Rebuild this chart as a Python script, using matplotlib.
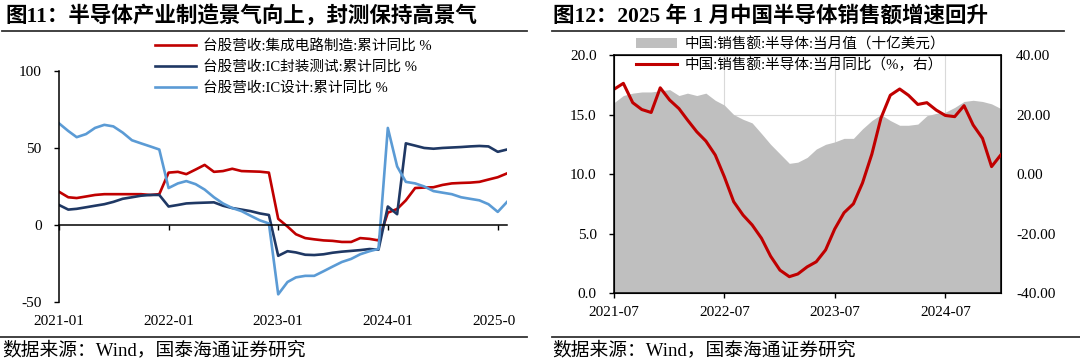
import pandas as pd
import matplotlib
matplotlib.use('Agg')
import matplotlib.pyplot as plt
from matplotlib.lines import Line2D
from matplotlib.patches import Patch
from matplotlib.transforms import Bbox, TransformedBbox

plt.rcParams['font.family'] = ['Liberation Serif', 'Noto Sans CJK SC']
plt.rcParams['axes.unicode_minus'] = False

# 图11: 台股营收 累计同比 (%)
months_l = pd.date_range('2021-01-01', '2025-02-01', freq='MS')
ic_mfg = [21.6, 18, 17.5, 18.5, 19.5, 20, 20, 20, 20, 20, 19.5, 20,
          34, 34.5, 33, 36, 39, 34.5, 35, 36.5, 35, 34.8, 34.6, 34,
          4, -1, -6, -8.5, -9.3, -10, -10.3, -11, -11, -8.5, -9, -10,
          8, 10.4, 16, 24, 24.3, 24.5, 26, 27, 27.3, 27.5, 28, 29.5,
          31, 33.5]
ic_pkg = [13, 10, 10.5, 11.5, 12.5, 13.5, 15, 17, 18, 19, 19.5, 19.5,
          12, 13, 14, 14.3, 14.5, 14.7, 12.5, 11, 10, 9, 7.5, 6.5,
          -20, -17, -17.8, -19.3, -19.5, -19, -18, -17.3, -16.8, -16.3, -15.6, -16,
          12, 7, 53, 51.5, 50, 49.5, 50, 50.3, 50.6, 51, 51.3, 51,
          47.5, 49]
ic_design = [66, 61, 57, 59, 63, 65, 64, 60, 55, 53, 51, 49,
             24, 27, 28.5, 26.5, 23, 18, 14, 11, 9, 6, 3, 1,
             -45, -37, -34, -33, -33, -30, -27, -24, -22, -19, -17, -15.5,
             63, 38, 28, 27, 25, 22, 21, 20, 18, 17, 16, 13.5,
             8.5, 15]
ticks_l = ['2021-01', '2022-01', '2023-01', '2024-01', '2025-01']
names_l = ['台股营收:集成电路制造:累计同比 %',
           '台股营收:IC封装测试:累计同比 %',
           '台股营收:IC设计:累计同比 %']

# 图12: 中国半导体销售额
months_r = pd.date_range('2021-07-01', '2025-01-01', freq='MS')
sales = [16.0, 16.6, 16.8, 16.9, 16.9, 17.0, 17.1, 16.6, 16.8, 16.6, 16.8, 16.2,
         15.8, 15.0, 14.6, 14.3, 13.4, 12.5, 11.7, 10.9, 11.0, 11.4, 12.1, 12.5,
         12.7, 13.0, 13.0, 13.8, 14.5, 15.0, 14.5, 14.1, 14.1, 14.2, 14.9, 15.1,
         15.2, 15.6, 16.1, 16.2, 16.1, 15.9, 15.5]
sales_yoy = [28.5, 30.5, 24, 21.7, 20.7, 29, 24.9, 22, 18.2, 14.2, 11.1, 6.4,
             -0.9, -9.3, -13.8, -17.1, -21.6, -27.6, -32.3, -34.5, -33.6, -31.2, -29.5, -25.5,
             -18.5, -13, -10, -3, 6.7, 18.8, 26.5, 28.6, 26.5, 23.4, 24, 21.5,
             19.7, 19.3, 23, 16.5, 12, 2.5, 6.5]
ticks_r = ['2021-07', '2022-07', '2023-07', '2024-07']
names_r = ['中国:销售额:半导体:当月值（十亿美元）',
           '中国:销售额:半导体:当月同比（%，右）']

red = '#C00000'
navy = '#1F3864'
light = '#5B9BD5'
grey = '#BFBFBF'

fig = plt.figure(figsize=(10.8, 3.6), dpi=100)

# ---- left chart ----
ax = fig.add_axes([0.0546, 0.161, 0.4149, 0.642])
ax.plot(months_l, ic_mfg, color=red, lw=1.9, label=names_l[0])
ax.plot(months_l, ic_pkg, color=navy, lw=1.9, label=names_l[1])
ax.plot(months_l, ic_design, color=light, lw=1.9, label=names_l[2])
ax.set_xlim(months_l[0], months_l[-1])
ax.set_ylim(-50, 100)
ax.set_yticks([-50, 0, 50, 100])
for s in ['top', 'right']:
    ax.spines[s].set_visible(False)
ax.spines['bottom'].set_position(('data', 0))
ax.spines['bottom'].set_linewidth(1.1)
ax.spines['left'].set_linewidth(1.1)
tick_pos_l = pd.to_datetime(ticks_l)
ax.set_xticks(tick_pos_l)
ax.tick_params(axis='x', labelbottom=False, direction='out', length=3.5, width=1)
ax.tick_params(axis='y', direction='out', length=3.5, width=1, pad=9, labelsize=11)
sec = ax.secondary_xaxis('bottom')
sec.set_xticks(tick_pos_l)
sec.set_xticklabels(ticks_l)
sec.tick_params(length=0, pad=9, labelsize=11)
sec.spines['bottom'].set_visible(False)
clip = TransformedBbox(Bbox([[0, 0], [516 / 1080, 1]]), fig.transFigure)
for lbl in sec.get_xticklabels():
    lbl.set_clip_box(clip)
    lbl.set_clip_on(True)
ax.legend(loc='upper left', bbox_to_anchor=(0.1435, 0.892), bbox_transform=fig.transFigure,
          frameon=False, fontsize=10.5, handlelength=2.8, handletextpad=0.5,
          labelspacing=0.5, borderpad=0, borderaxespad=0)

# ---- right chart ----
axr = fig.add_axes([0.5685, 0.186, 0.3583, 0.661])
axr.fill_between(months_r, 0, sales, color=grey, lw=0, zorder=2)
axr.set_xlim(months_r[0], months_r[-1])
axr.set_ylim(0, 20)
axr.set_yticks([0, 5, 10, 15, 20])
axr.yaxis.set_major_formatter(plt.FormatStrFormatter('%.1f'))
tick_pos_r = pd.to_datetime(ticks_r)
axr.set_xticks(tick_pos_r)
axr.set_xticklabels(ticks_r)
axr.set_axisbelow(True)
axr.grid(True, color='#D9D9D9', lw=0.8, zorder=0)
axr.tick_params(axis='x', direction='out', length=3.5, width=1, pad=6, labelsize=11)
axr.tick_params(axis='y', direction='out', length=3.5, width=1, pad=9, labelsize=11)
for s in axr.spines.values():
    s.set_linewidth(1.1)

axr2 = axr.twinx()
axr2.plot(months_r, sales_yoy, color=red, lw=2.2)
axr2.set_ylim(-40, 40)
axr2.set_yticks([-40, -20, 0, 20, 40])
axr2.yaxis.set_major_formatter(plt.FormatStrFormatter('%.2f'))
axr2.tick_params(axis='y', length=0, pad=11, labelsize=11)

handles = [Patch(facecolor=grey, edgecolor='none'), Line2D([], [], color=red, lw=2.2)]
axr2.legend(handles, names_r, loc='upper left', bbox_to_anchor=(0.589, 0.897),
            bbox_transform=fig.transFigure, frameon=False, fontsize=10.5,
            handlelength=2.8, handletextpad=0.5, labelspacing=0.4,
            borderpad=0, borderaxespad=0)

# ---- titles, rules, sources ----
fig.text(0.005, 0.955, '图11：半导体产业制造景气向上，封测保持高景气',
         fontsize=15.5, fontweight='bold', va='center', ha='left')
fig.text(0.512, 0.955, '图12：2025 年 1 月中国半导体销售额增速回升',
         fontsize=15.5, fontweight='bold', va='center', ha='left')
for x0, x1 in [(0.002, 0.488), (0.511, 0.985)]:
    fig.add_artist(Line2D([x0, x1], [1 - 31 / 360] * 2, transform=fig.transFigure,
                          color='#333333', lw=1.3))
for x0, x1 in [(0.0, 0.488), (0.511, 1.0)]:
    fig.add_artist(Line2D([x0, x1], [1 - 337 / 360] * 2, transform=fig.transFigure,
                          color='#333333', lw=1.3))
fig.text(0.002, 1 - 350 / 360, '数据来源：Wind，国泰海通证券研究', fontsize=13.5,
         va='center', ha='left')
fig.text(0.511, 1 - 350 / 360, '数据来源：Wind，国泰海通证券研究', fontsize=13.5,
         va='center', ha='left')

fig.savefig('out.png', dpi=100)
